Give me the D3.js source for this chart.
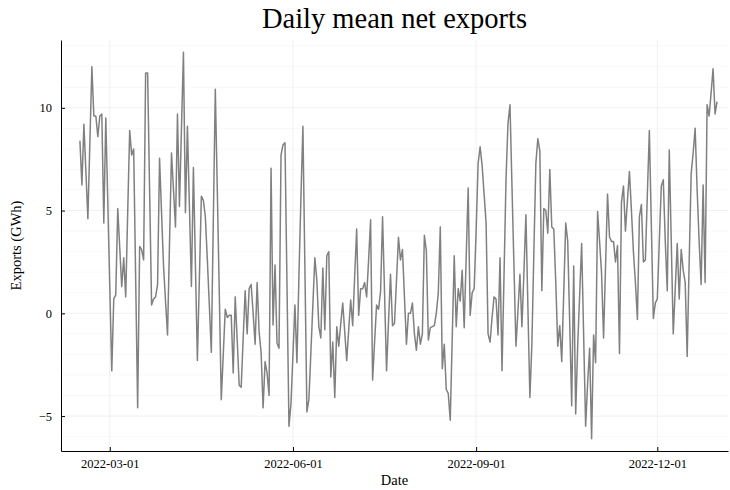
<!DOCTYPE html>
<html>
<head>
<meta charset="utf-8">
<script src="https://cdn.jsdelivr.net/npm/d3@7"></script>
<style>
  html, body { margin: 0; padding: 0; background: #fff; }
  svg { display: block; }
</style>
</head>
<body>
<svg id="chart" width="730" height="490"></svg>
<script>
// Daily mean net exports (GWh), one value per day from the start date
const startDate = "2022-02-14";
const exportsGWh = [
  8.4, 6.25, 9.2, 6.9, 4.6, 8.3, 12.0, 9.6, 9.6, 8.6, 9.6, 9.7, 4.4, 9.5, 5.4, 1.3,
  -2.8, 0.7, 0.9, 5.1, 3.2, 1.3, 2.7, 0.8, 4.9, 8.9, 7.7, 8.0, 1.7, -4.6, 3.25, 3.1,
  2.6, 11.7, 11.7, 6.0, 0.4, 0.7, 0.8, 1.4, 7.55, 4.9, 2.3, 0.6, -1.05, 3.4, 7.8, 6.0,
  4.2, 9.7, 5.2, 9.0, 12.7, 4.9, 9.1, 5.2, 1.3, 7.1, 2.4, -2.3, 1.7, 5.7, 5.5, 4.7,
  2.6, 0.4, -1.9, 4.5, 10.9, 6.0, 1.0, -4.2, -2.0, 0.2, -0.2, -0.1, -0.1, -2.9, 0.8, -1.3,
  -3.5, -3.6, -1.2, 1.1, -1.0, 1.2, 1.4, 0.0, -1.5, 1.5, -0.9, -1.9, -4.6, -2.35, -2.9, -4.0,
  7.06, -0.57, 2.35, -1.46, -1.7, 7.7, 8.2, 8.3, 1.4, -5.5, -4.4, -2.0, 0.4, -2.4, 1.8, 5.6,
  9.1, 2.2, -4.8, -4.2, -1.9, 0.4, 2.7, 1.6, -0.65, -1.2, 2.2, -0.8, 2.8, 3.0, -3.1, -1.4,
  -4.1, -0.65, -1.6, -0.5, 0.5, -0.9, -2.3, -0.8, 0.65, -0.6, 1.8, 4.1, -0.1, 1.2, 1.2, 1.5,
  0.8, 2.6, 4.55, -3.25, -1.4, 0.4, 0.2, 1.05, 4.7, 1.0, -2.8, -0.4, 1.9, -0.6, -0.5, 1.6,
  3.7, 2.6, 3.1, 0.8, -1.5, 0.0, 0.0, 0.5, -1.0, -1.8, -0.65, -1.5, -1.0, 3.8, 3.05, -1.3,
  -0.7, -0.65, -0.6, 0.0, 1.0, 4.2, -2.7, -1.5, -3.7, -3.9, -5.2, -1.2, 2.8, -0.65, 1.2, 0.6,
  2.1, -0.7, 2.7, 6.1, -0.1, 1.0, 1.2, 4.0, 7.3, 8.1, 7.2, 5.8, 4.4, -1.0, -1.4, -0.2,
  0.8, 0.7, -1.05, 2.7, -2.8, 1.8, 6.5, 9.25, 10.15, 6.2, 2.3, -1.6, 0.1, 1.9, -0.65, 2.0,
  4.8, 0.3, -4.1, -1.5, 3.0, 7.3, 8.5, 7.9, 1.1, 5.1, 5.0, 3.9, 7.0, 4.2, 4.1, 1.5,
  -1.6, -0.6, -2.35, 1.0, 4.4, 3.5, -0.5, -4.5, 2.3, -4.9, -1.6, 0.9, 3.4, -1.1, -5.5, -3.4,
  -1.7, -6.1, -1.05, -2.4, 4.95, 3.5, 1.95, -1.2, 2.3, 5.8, 3.7, 3.5, 3.5, 2.5, 3.3, -1.95,
  5.4, 6.2, 4.0, 5.5, 6.9, 5.0, 3.0, 1.5, -0.3, 4.7, 5.3, 2.5, 2.6, 5.8, 8.9, 4.3,
  -0.25, 0.5, 0.7, 3.5, 6.2, 6.5, 3.5, 1.1, 7.95, 3.5, -1.0, 1.2, 3.4, 0.7, 3.1, 2.1,
  1.5, -2.1, 2.5, 6.8, 7.8, 9.0, 6.0, 3.5, 1.4, 6.25, 1.5, 10.15, 9.6, 10.7, 11.9, 9.7,
  10.3
];

// Axis settings
const xTickDates = ["2022-03-01", "2022-06-01", "2022-09-01", "2022-12-01"];
const xDomain = ["2022-02-04T12:00:00", "2023-01-05T12:00:00"];
const yTickValues = [-5, 0, 5, 10];
const yDomain = [-6.7, 13.3];
const titleText = "Daily mean net exports";
const xLabelText = "Date";
const yLabelText = "Exports (GWh)";

const parseDay = d3.utcParse("%Y-%m-%d");
const parseStamp = d3.utcParse("%Y-%m-%dT%H:%M:%S");
const t0 = parseDay(startDate);
const series = exportsGWh.map((v, i) => ({ date: d3.utcDay.offset(t0, i), value: v }));

const svg = d3.select("#chart");
const margin = { left: 61, right: 2, top: 40, bottom: 39 };
const W = 730, H = 490;

const x = d3.scaleUtc()
  .domain(xDomain.map(parseStamp))
  .range([margin.left, W - margin.right]);
const y = d3.scaleLinear()
  .domain(yDomain)
  .range([H - margin.bottom, margin.top]);

const serif = "'Liberation Serif', 'DejaVu Serif', serif";

// Grid: minor horizontal lines at each unit, major at the labelled ticks
const minorY = d3.range(Math.ceil(yDomain[0]), Math.floor(yDomain[1]) + 1)
  .filter(v => !yTickValues.includes(v));
const grid = svg.append("g");
grid.selectAll("line.minor").data(minorY).join("line")
  .attr("x1", x.range()[0]).attr("x2", x.range()[1])
  .attr("y1", d => y(d)).attr("y2", d => y(d))
  .attr("stroke", "#000").attr("stroke-opacity", 0.05).attr("stroke-width", 0.6);
grid.selectAll("line.majy").data(yTickValues).join("line")
  .attr("x1", x.range()[0]).attr("x2", x.range()[1])
  .attr("y1", d => y(d)).attr("y2", d => y(d))
  .attr("stroke", "#000").attr("stroke-opacity", 0.1).attr("stroke-width", 0.6);
grid.selectAll("line.majx").data(xTickDates.map(parseDay)).join("line")
  .attr("x1", d => x(d)).attr("x2", d => x(d))
  .attr("y1", y.range()[0]).attr("y2", y.range()[1])
  .attr("stroke", "#000").attr("stroke-opacity", 0.1).attr("stroke-width", 0.6);

// Series line
const line = d3.line().x(d => x(d.date)).y(d => y(d.value));
svg.append("path")
  .datum(series)
  .attr("d", line)
  .attr("fill", "none")
  .attr("stroke", "#808080")
  .attr("stroke-width", 1.5)
  .attr("stroke-linejoin", "round");

// Axes
const fmt = d3.utcFormat("%Y-%m-%d");
const xAxis = d3.axisBottom(x)
  .tickValues(xTickDates.map(parseDay))
  .tickFormat(fmt)
  .tickSizeInner(-4).tickSizeOuter(0).tickPadding(8);
const gx = svg.append("g")
  .attr("transform", `translate(0,${y.range()[0]})`)
  .call(xAxis);

const yAxis = d3.axisLeft(y)
  .tickValues(yTickValues)
  .tickFormat(d => d < 0 ? "\u2212" + Math.abs(d) : String(d))
  .tickSizeInner(-4).tickSizeOuter(0).tickPadding(9);
const gy = svg.append("g")
  .attr("transform", `translate(${x.range()[0]},0)`)
  .call(yAxis);

[gx, gy].forEach(g => {
  g.select(".domain").attr("stroke", "#000").attr("stroke-width", 1);
  g.selectAll(".tick line").attr("stroke", "#000").attr("stroke-width", 1);
  g.selectAll(".tick text")
    .attr("font-family", serif).attr("font-size", 12.5).attr("fill", "#000");
});

// Title and axis labels
svg.append("text")
  .attr("x", (x.range()[0] + x.range()[1]) / 2).attr("y", 28)
  .attr("text-anchor", "middle")
  .attr("font-family", serif).attr("font-size", 28.5)
  .text(titleText);
svg.append("text")
  .attr("x", (x.range()[0] + x.range()[1]) / 2).attr("y", 485)
  .attr("text-anchor", "middle")
  .attr("font-family", serif).attr("font-size", 14.5)
  .text(xLabelText);
svg.append("text")
  .attr("transform", `translate(21,${(y.range()[0] + y.range()[1]) / 2}) rotate(-90)`)
  .attr("text-anchor", "middle")
  .attr("font-family", serif).attr("font-size", 14.5)
  .text(yLabelText);
</script>
</body>
</html>
